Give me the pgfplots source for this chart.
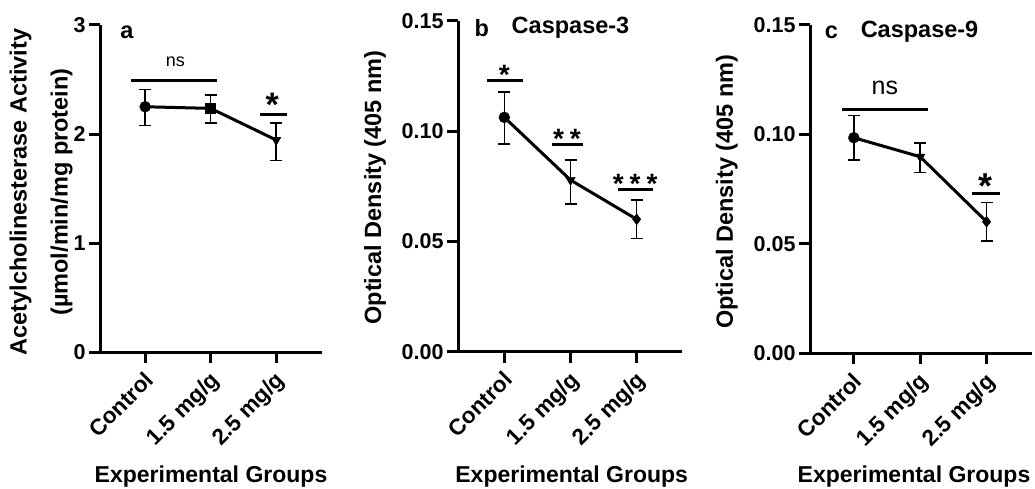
\documentclass[border=0pt]{standalone}
\usepackage{fontspec}
\setmainfont{Liberation Sans}
\usepackage{pgfplots}
\pgfplotsset{compat=1.18}
\newcommand\tk{\bfseries\fontsize{21.5}{24}\selectfont}
\newcommand\xtk{\bfseries\fontsize{22.5}{26}\selectfont}
\newcommand\lb{\bfseries\fontsize{23.5}{35}\selectfont}
\newcommand\xl{\bfseries\fontsize{23}{23}\selectfont}
\pgfplotsset{
 panel/.style={
  scale only axis, clip=false,
  axis lines=left, axis line style={line width=3pt,-},
  tick align=outside, major tick length=11pt,
  every tick/.style={line width=3pt, black},
  xtick={0,1,2}, xticklabels={Control,1.5 mg/g,2.5 mg/g},
  xticklabel style={xshift=-2pt, yshift=-7pt, rotate=45, anchor=north east, font=\xtk, inner sep=0pt},
  yticklabel style={font=\tk},
  ymin=0,
 },
 dataline/.style={line width=3pt, black, mark=none,
  error bars/.cd, y dir=both, y explicit,
  error bar style={line width=1.5pt, black},
  error mark options={rotate=90, line width=1.5pt, mark size=6pt, black}},
 pt/.style={only marks, black, mark size=5.5pt},
 sig/.style={line width=3pt, black, mark=none},
}
\begin{document}
\begin{tikzpicture}
% ---------- a ----------
\begin{axis}[panel, at={(100pt,-352pt)}, anchor=south west, width=222pt, height=327pt,
  xmin=-0.69, xmax=2.70, ymax=3, ytick={0,1,2,3}, yticklabels={0,1,2,3}]
\addplot[dataline] coordinates {(0,2.25) += (0,0.16) -= (0,0.17)
  (1,2.235) += (0,0.125) -= (0,0.135) (2,1.945) += (0,0.155) -= (0,0.19)};
\addplot[pt, mark=*] coordinates {(0,2.25)};
\addplot[pt, mark=square*, mark size=5pt] coordinates {(1,2.235)};
\addplot[pt, mark=triangle*, mark options={rotate=180}] coordinates {(2,1.945)};
\addplot[sig] coordinates {(-0.218,2.495) (1.10,2.495)};
\addplot[sig] coordinates {(1.756,2.18) (2.163,2.18)};
\node[font=\fontsize{18}{18}\selectfont] at (axis cs:0.46,2.66) {ns};
\node[font=\bfseries\fontsize{34}{34}\selectfont] at (axis cs:1.94,2.27) {*};
\node[font=\lb] at (axis cs:-0.28,2.93) {a};
\end{axis}
% ---------- b ----------
\begin{axis}[panel, at={(458pt,-351.7pt)}, anchor=south west, width=223.7pt, height=331pt,
  xmin=-0.70, xmax=2.68, ymax=0.15, ytick={0,0.05,0.10,0.15}, yticklabels={0.00,0.05,0.10,0.15}]
\addplot[dataline] coordinates {(0,0.1062) += (0,0.0116) -= (0,0.0121)
  (1,0.0778) += (0,0.0091) -= (0,0.0109) (2,0.0600) += (0,0.0088) -= (0,0.0086)};
\addplot[pt, mark=*] coordinates {(0,0.1062)};
\addplot[pt, mark=triangle*, mark options={rotate=180}] coordinates {(1,0.0778)};
\addplot[pt, mark=diamond*] coordinates {(2,0.0600)};
\addplot[sig] coordinates {(-0.26,0.1228) (0.28,0.1228)};
\addplot[sig] coordinates {(0.724,0.0941) (1.196,0.0941)};
\addplot[sig] coordinates {(1.72,0.0737) (2.247,0.0737)};
\node[font=\bfseries\fontsize{28}{28}\selectfont] at (axis cs:0,0.1255) {*};
\node[font=\bfseries\fontsize{28}{28}\selectfont] at (axis cs:0.946,0.0965) {*\hspace{6pt}*};
\node[font=\bfseries\fontsize{28}{28}\selectfont] at (axis cs:1.976,0.0762) {*\hspace{6pt}*\hspace{6pt}*};
\node[font=\lb] at (axis cs:-0.34,0.1467) {b};
\node[font=\lb] at (axis cs:1.0,0.1467) {Caspase-3};
\end{axis}
% ---------- c ----------
\begin{axis}[panel, at={(810pt,-353.3pt)}, anchor=south west, width=221.7pt, height=328.3pt,
  xmin=-0.66, xmax=2.68, ymax=0.15, ytick={0,0.05,0.10,0.15}, yticklabels={0.00,0.05,0.10,0.15}]
\addplot[dataline] coordinates {(0,0.0985) += (0,0.0101) -= (0,0.0102)
  (1,0.0898) += (0,0.0062) -= (0,0.0071) (2,0.0601) += (0,0.0087) -= (0,0.0087)};
\addplot[pt, mark=*] coordinates {(0,0.0985)};
\addplot[pt, mark=triangle*, mark options={rotate=180}] coordinates {(1,0.0898)};
\addplot[pt, mark=diamond*] coordinates {(2,0.0601)};
\addplot[sig] coordinates {(-0.176,0.1112) (1.12,0.1112)};
\addplot[sig] coordinates {(1.773,0.0731) (2.2,0.0731)};
\node[font=\fontsize{25}{25}\selectfont] at (axis cs:0.467,0.1211) {ns};
\node[font=\bfseries\fontsize{36}{36}\selectfont] at (axis cs:1.99,0.0765) {*};
\node[font=\lb] at (axis cs:-0.336,0.1468) {c};
\node[font=\lb] at (axis cs:0.99,0.1468) {Caspase-9};
\end{axis}
% ---------- axis titles ----------
\node[rotate=90, font=\lb, align=center] at (41pt,-192pt) {Acetylcholinesterase Activity\\[6pt](µmol/min/mg protein)};
\node[rotate=90, font=\lb] at (375pt,-187.5pt) {Optical Density (405 nm)};
\node[rotate=90, font=\lb] at (726.7pt,-191.7pt) {Optical Density (405 nm)};
\node[font=\xl] at (211pt,-477pt) {Experimental Groups};
\node[font=\xl] at (571.7pt,-477pt) {Experimental Groups};
\node[font=\xl] at (914pt,-477pt) {Experimental Groups};
\pgfresetboundingbox
\path (0pt,0pt) rectangle (1035pt,-489pt);
\end{tikzpicture}
\end{document}
